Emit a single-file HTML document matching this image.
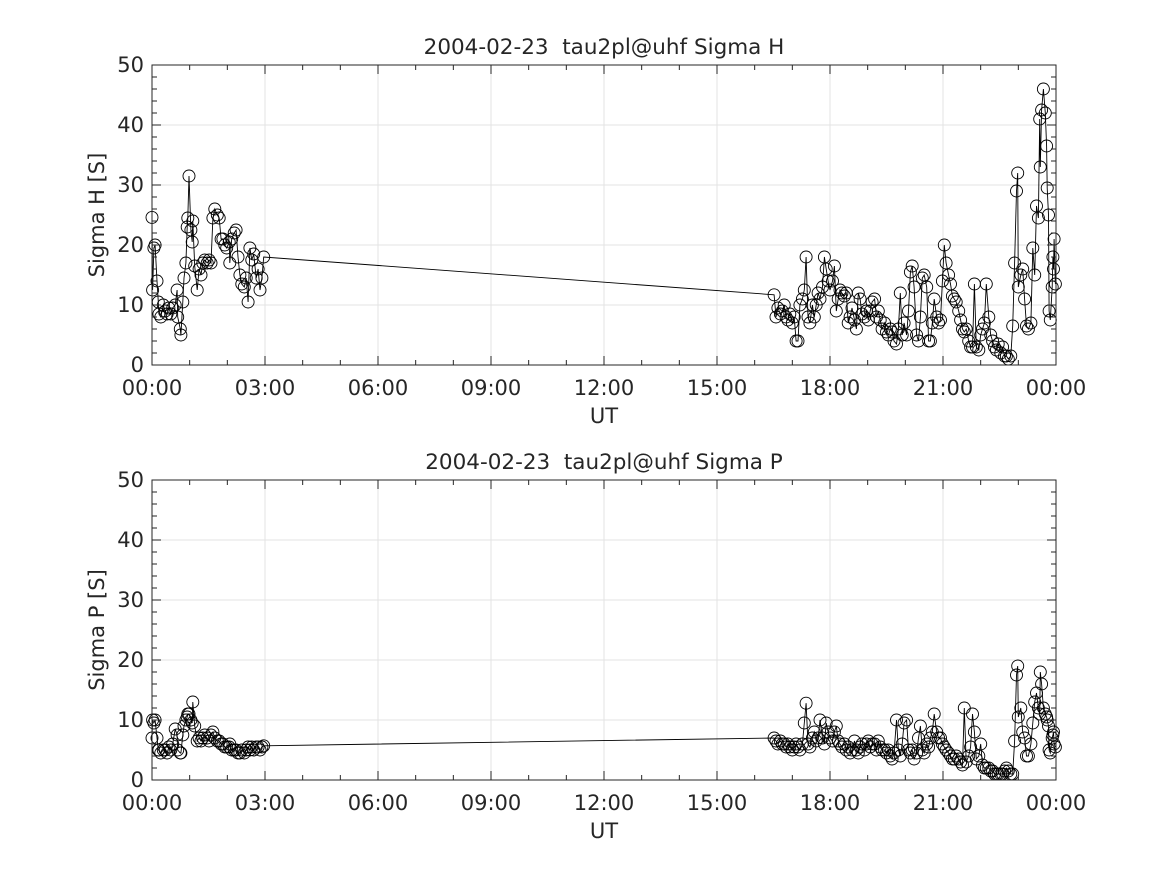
<!DOCTYPE html>
<html><head><meta charset="utf-8"><style>
html,body{margin:0;padding:0;background:#fff;}
svg text{font-family:"DejaVu Sans","Liberation Sans",sans-serif;fill:#262626;white-space:pre;}
</style></head><body>
<svg id="chart" width="1167" height="875" viewBox="0 0 1167 875" xmlns="http://www.w3.org/2000/svg"></svg>
<script>
// Time in minutes since 00:00 UT
const timesSeg1 = [0,1,3,5,8,10,11,14,18,21,24,27,30,33,37,40,41,45,46,49,51,54,56,57,59,62,64,65,68,72,75,78,81,84,88,91,94,97,100,104,107,110,113,116,119,123,124,127,131,134,137,140,143,147,150,153,156,159,162,166,169,172,175,178];
const timesSeg2 = [991,994,997,1001,1004,1007,1010,1013,1016,1020,1023,1026,1029,1032,1036,1039,1042,1045,1048,1052,1055,1058,1061,1064,1068,1071,1074,1077,1080,1084,1087,1090,1093,1096,1099,1103,1106,1109,1112,1115,1119,1122,1125,1128,1131,1135,1138,1141,1144,1147,1151,1154,1157,1160,1163,1167,1170,1173,1176,1179,1182,1186,1189,1192,1195,1198,1202,1205,1208,1211,1214,1218,1221,1224,1227,1230,1234,1237,1240,1243,1246,1250,1253,1256,1259,1262,1265,1269,1272,1275,1278,1281,1285,1288,1291,1294,1297,1301,1304,1307,1310,1313,1317,1320,1323,1326,1329,1333,1336,1339,1342,1345,1348,1352,1355,1358,1361,1364,1368,1371,1374,1377,1379,1380,1384,1387,1390,1393,1396,1400,1403,1406,1409,1412,1414,1415,1417,1420,1423,1425,1426,1428,1429,1431,1434,1435,1436,1437,1439];
const sigmaHSeg1 = [24.6,12.5,19.5,20,14,10.5,8.5,8,10,9,8.5,9.5,8.5,9.5,10,12.5,8,6,5,10.5,14.5,17,23,24.5,31.5,22.5,20.5,24,16.5,12.5,16,15,17,17.5,17,17.5,17,24.5,26,25,24.5,21,21,20,19.5,20.5,17,21,22,22.5,18,15,13.5,13,14.5,10.5,19.5,17.5,18.5,14.5,16,12.5,14.5,18];
const sigmaHSeg2 = [11.7,8,9.5,8.5,9,10,8,7.5,8.5,7,8,4,4,10,11,12.5,18,8,7,10,8,10,12,11,13,18,16,14,12.5,14,16.5,9,11,12.5,12,11.5,12,7,8,9.5,7.5,6,12,11,8.5,8,9,7.5,9,10.5,11,8,9,7.5,6,7,5.5,5,6,5.5,4,3.5,6,12,5,7,5,9,15.5,16.5,13,5,4,8,14.5,15,13,4,4,7,11,8,7,7.5,14,20,17,15,13.5,11.5,11,10.5,9,7.5,6,5.5,6,4,3,3,13.5,3,2.5,5,6,7,13.5,8,5,4,3,2.5,3.5,2,3,1.5,1.5,1,1.5,6.5,17,29,32,13,15,16,11,6.5,6,7,19.5,15,26.5,24.5,41,33,42.5,46,42,36.5,29.5,25,9,7.5,13,18,16,21,13.5];
const sigmaPSeg1 = [7,10,9.5,10,7,5,5,4.5,5,5,4.5,5.5,5,6,8.5,7.5,5,4.5,4.5,7.5,9,10,10.5,11,11,10,9.5,13,9,6.5,7,6.5,7,7.5,7,6.5,7.5,8,7,6.5,6.5,6,6,5.5,5.5,5.5,6,5,5,5,4.5,4.5,5,4.5,5,5.5,5,5.5,5,5.5,5.5,5,5.5,5.7];
const sigmaPSeg2 = [7,6.5,6,6.5,6,6,5.5,6,5.5,5,5.5,6,5.5,5,6,9.5,12.8,6,5.5,7,8,6.5,7,10,7,6,9.5,8,7,6.5,8,9,6.5,6,5.5,6,5,5.5,4.5,5,6.5,5,4.5,5.5,6,5,6,6.5,5.5,6,6,5,6.5,5.5,5,5,4.5,5,4,3.5,4.5,10,5,4,6,9.5,10,5,4.5,5,3.5,4.5,7,9,5,4.5,6,5.5,7,8,11,8,7,7,6,5.5,5,4.5,4,3.5,3.5,4,3.5,3,2.5,12,3,4,5.5,11,8,3.5,4,6,2.5,2,2,2,1.5,1.5,1,1,1,1,1,1.5,2,1.5,1,1,6.5,17.5,19,10.5,12,8,7,4,4,6,9.5,13,14.5,12,11,18,16,12,11,10.5,10,9,5,4.5,7,7.5,8,6,5.5];
const xTickLabels = ["00:00","03:00","06:00","09:00","12:00","15:00","18:00","21:00","00:00"];
const yTickLabels = ["0","10","20","30","40","50"];

const NS="http://www.w3.org/2000/svg";
const svg=document.getElementById('chart');
function mk(tag,attrs,parent){const e=document.createElementNS(NS,tag);for(const k in attrs)e.setAttribute(k,attrs[k]);(parent||svg).appendChild(e);return e;}

function drawPanel(p){
  const L=152,R=1056,T=p.top,B=p.top+300;
  const xS=m=>L+(m/1440)*(R-L);
  const yS=v=>B-(v/50)*(B-T);
  const g=mk('g',{});
  
  
  for(let i=0;i<xTickLabels.length;i++){const x=xS(i*180);
    const l=mk('line',{x1:x,x2:x,y1:T,y2:B,stroke:'#e3e3e3','stroke-width':1},g);
    }
  for(let i=0;i<yTickLabels.length;i++){const y=yS(+yTickLabels[i]);
    const l=mk('line',{x1:L,x2:R,y1:y,y2:y,stroke:'#e3e3e3','stroke-width':1},g);
    }
  const n1=Math.min(p.t1.length,p.v1.length),n2=Math.min(p.t2.length,p.v2.length);
  const allT=p.t1.slice(0,n1).concat(p.t2.slice(0,n2));
  const allV=p.v1.slice(0,n1).concat(p.v2.slice(0,n2));
  let d='';
  for(let i=0;i<allT.length;i++)d+=(i?'L':'M')+xS(allT[i]).toFixed(1)+' '+yS(allV[i]).toFixed(1);
  const line=mk('path',{d:d,fill:'none',stroke:'#000','stroke-width':0.9},g);
  
  for(let i=0;i<allT.length;i++){
    const c=mk('circle',{cx:xS(allT[i]).toFixed(1),cy:yS(allV[i]).toFixed(1),r:6,fill:'none',stroke:'#000','stroke-width':0.9},g);
    
  }
  const fr=mk('rect',{x:L,y:T,width:R-L,height:B-T,fill:'none',stroke:'#262626','stroke-width':1},g);
  
  let td='';
  for(let h=0;h<=24;h++){const x=xS(h*60);const len=(h%3===0)?9:5;td+=`M${x} ${B}v${-len}M${x} ${T}v${len}`;}
  for(let v=0;v<=50;v+=2){const y=yS(v);const len=(v%10===0)?9:5;td+=`M${L} ${y}h${len}M${R} ${y}h${-len}`;}
  const tk=mk('path',{d:td,stroke:'#262626','stroke-width':1,fill:'none'},g);
  
  for(let i=0;i<xTickLabels.length;i++){
    const t=mk('text',{x:xS(i*180),y:B+30,'text-anchor':'middle','font-size':21},g);t.textContent=xTickLabels[i];
    }
  for(let i=0;i<yTickLabels.length;i++){
    const t=mk('text',{x:L-8,y:yS(+yTickLabels[i])+7,'text-anchor':'end','font-size':21},g);t.textContent=yTickLabels[i];
    }
  const xt=mk('text',{x:(L+R)/2,y:B+58,'text-anchor':'middle','font-size':21},g);xt.textContent='UT';
  
  const yt=mk('text',{x:0,y:0,'text-anchor':'middle','font-size':21,transform:`translate(104 ${(T+B)/2}) rotate(-90)`},g);yt.textContent=p.ylabel;
  
  const tt=mk('text',{x:(L+R)/2,y:T-11,'text-anchor':'middle','font-size':21.5},g);tt.textContent=p.title;
  
}
drawPanel({name:'sigma-h-panel',top:65,t1:timesSeg1,v1:sigmaHSeg1,t2:timesSeg2,v2:sigmaHSeg2,ylabel:'Sigma H [S]',title:'2004-02-23  tau2pl@uhf Sigma H'});
drawPanel({name:'sigma-p-panel',top:480,t1:timesSeg1,v1:sigmaPSeg1,t2:timesSeg2,v2:sigmaPSeg2,ylabel:'Sigma P [S]',title:'2004-02-23  tau2pl@uhf Sigma P'});
</script>
</body></html>
